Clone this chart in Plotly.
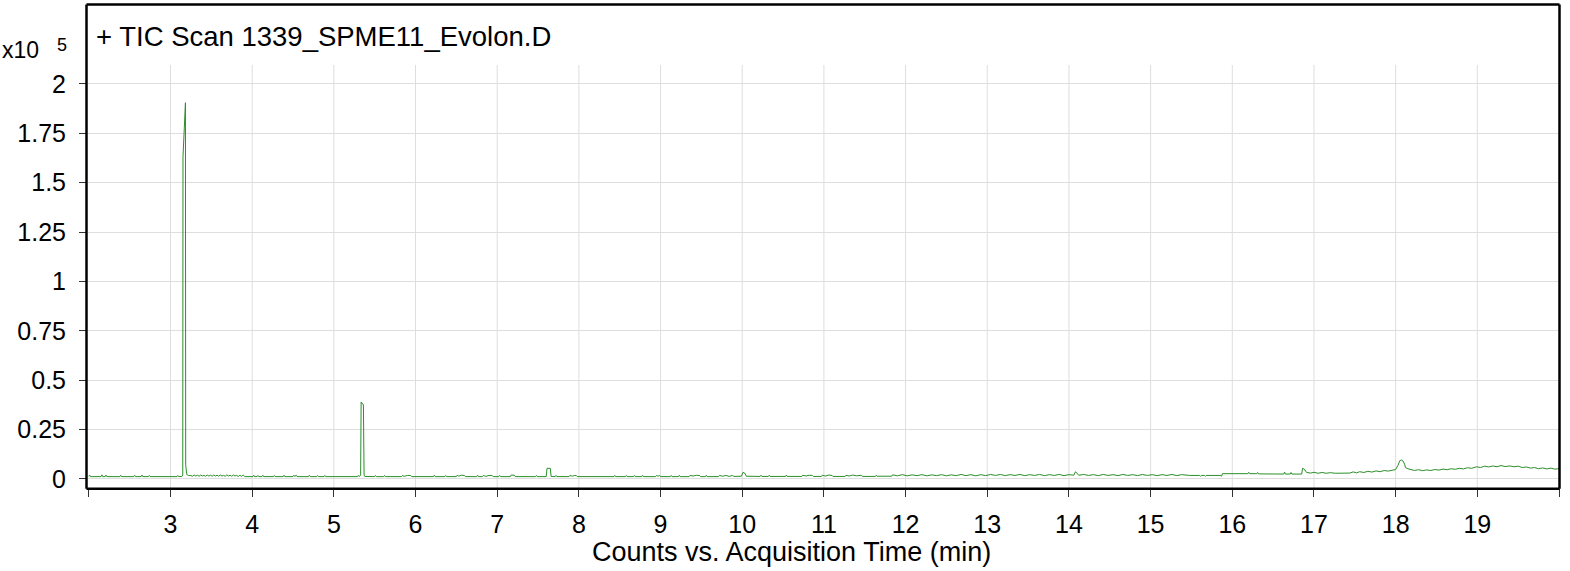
import plotly.graph_objects as go

# Acquisition time (min) and TIC counts (x10^5)
time_min = [
    2.00, 2.01, 2.02, 2.15, 2.16, 2.17, 2.20, 2.21, 2.22, 2.38, 2.39, 2.40,
    2.55, 2.56, 2.57, 2.64, 2.65, 2.66, 2.73, 2.74, 2.75, 3.08, 3.09, 3.10,
    3.14, 3.150, 3.153, 3.183, 3.186, 3.192, 3.200, 3.21, 3.22,
    3.25, 3.27, 3.29, 3.31, 3.33, 3.35, 3.37, 3.39, 3.41, 3.43, 3.45, 3.47,
    3.49, 3.51, 3.53, 3.55, 3.57, 3.59, 3.61, 3.63, 3.65, 3.67, 3.69, 3.71,
    3.73, 3.75, 3.77, 3.79, 3.81, 3.83, 3.85, 3.87, 3.89, 3.91,
    4.01, 4.02, 4.03, 4.06, 4.07, 4.08, 4.12, 4.13, 4.14, 4.26, 4.27, 4.28,
    4.38, 4.39, 4.40, 4.50, 4.51, 4.52, 4.54, 4.55, 4.69, 4.70, 4.71,
    4.79, 4.80, 4.81, 4.88, 4.89, 4.90, 5.29, 5.30, 5.31,
    5.328, 5.331, 5.334, 5.362, 5.365, 5.370, 5.378,
    5.50, 5.51, 5.52, 5.61, 5.62, 5.63, 5.83, 5.84, 5.86, 5.90, 5.94, 5.95,
    6.22, 6.23, 6.24, 6.36, 6.37, 6.38, 6.50, 6.51, 6.53, 6.56, 6.60, 6.61,
    6.75, 6.76, 6.77, 6.82, 6.83, 6.86, 6.90, 6.94, 6.95, 7.02, 7.03, 7.04,
    7.16, 7.17, 7.21, 7.22, 7.47, 7.48, 7.49, 7.60, 7.61, 7.65, 7.66,
    7.71, 7.72, 7.73, 7.88, 7.89, 7.92, 7.95, 7.97, 7.98,
    8.43, 8.44, 8.45, 8.57, 8.58, 8.59, 8.67, 8.68, 8.69, 8.77, 8.78, 8.79,
    8.94, 8.95, 8.97, 8.99, 9.00, 9.12, 9.13, 9.14, 9.22, 9.23, 9.24,
    9.35, 9.36, 9.40, 9.44, 9.48, 9.49, 9.55, 9.56, 9.57,
    9.71, 9.72, 9.76, 9.80, 9.84, 9.88, 9.90, 9.99, 10.01, 10.03, 10.05,
    10.22, 10.23, 10.24, 10.32, 10.33, 10.34, 10.53, 10.54, 10.55,
    10.73, 10.74, 10.78, 10.82, 10.86, 10.87, 10.97, 10.98, 11.02, 11.06, 11.10, 11.11,
    11.26, 11.27, 11.31, 11.35, 11.40, 11.46, 11.47, 11.63, 11.64, 11.65,
    11.83, 11.84, 11.90, 11.96, 12.02, 12.08, 12.14, 12.20, 12.26, 12.32, 12.38,
    12.44, 12.50, 12.56, 12.62, 12.68, 12.74, 12.80, 12.86, 12.92, 12.98,
    13.04, 13.10, 13.16, 13.22, 13.28, 13.34, 13.40, 13.46, 13.52, 13.58,
    13.64, 13.70, 13.76, 13.82, 13.88, 13.94, 14.00, 14.06, 14.08, 14.10, 14.12,
    14.18, 14.24, 14.30, 14.36, 14.42, 14.48, 14.54, 14.60, 14.66, 14.72,
    14.78, 14.84, 14.90, 14.96, 15.02, 15.08, 15.14, 15.20, 15.26, 15.32,
    15.38, 15.44, 15.48, 15.60, 15.61, 15.62, 15.66, 15.67, 15.68,
    15.86, 15.87, 15.88, 16.19, 16.20, 16.21, 16.30, 16.31, 16.32,
    16.63, 16.64, 16.65, 16.71, 16.72, 16.73, 16.85, 16.86, 16.88, 16.91,
    16.96, 17.00, 17.05, 17.10, 17.15, 17.20, 17.26, 17.44, 17.48, 17.52,
    17.56, 17.61, 17.66, 17.71, 17.76, 17.81, 17.86, 17.91, 17.96, 18.00,
    18.03, 18.05, 18.07, 18.09, 18.11, 18.12, 18.15, 18.19, 18.23, 18.28,
    18.33, 18.38, 18.43, 18.48, 18.53, 18.58, 18.63, 18.68, 18.73, 18.78,
    18.83, 18.88, 18.93, 18.99, 19.04, 19.09, 19.14, 19.19, 19.24, 19.29,
    19.34, 19.40, 19.45, 19.50, 19.55, 19.60, 19.65, 19.70, 19.75, 19.80,
    19.85, 19.90, 19.95, 20.00,
]

counts_e5 = [
    .013, .020, .012, .012, .021, .012, .012, .020, .012, .012, .019, .012,
    .012, .019, .012, .012, .020, .012, .012, .018, .012, .012, .018, .012,
    .013, .020, 1.630, 1.905, .070, .050, .022, .020, .018,
    .017, .014, .020, .015, .019, .014, .020, .015, .018, .014, .020, .015,
    .019, .014, .020, .015, .019, .014, .020, .015, .018, .014, .021, .015,
    .019, .014, .020, .015, .018, .013, .019, .013, .020, .012,
    .012, .019, .012, .012, .018, .012, .012, .019, .012, .012, .018, .012,
    .012, .019, .012, .012, .019, .013, .019, .012, .012, .019, .012,
    .012, .018, .012, .012, .018, .012, .012, .018, .012,
    .020, .385, .390, .375, .030, .020, .013,
    .012, .018, .012, .012, .018, .012, .012, .018, .013, .018, .018, .012,
    .012, .019, .012, .012, .018, .012, .012, .019, .014, .019, .018, .012,
    .012, .019, .012, .012, .018, .013, .018, .017, .012, .012, .018, .012,
    .012, .020, .019, .012, .012, .018, .012, .012, .054, .054, .013,
    .012, .018, .012, .012, .018, .014, .018, .017, .012,
    .012, .018, .012, .012, .018, .012, .012, .018, .012, .012, .019, .012,
    .012, .018, .014, .018, .012, .012, .018, .012, .012, .019, .012,
    .012, .018, .015, .019, .017, .012, .012, .019, .012,
    .012, .018, .014, .018, .013, .018, .013, .014, .034, .030, .014,
    .013, .019, .013, .013, .019, .013, .013, .020, .013,
    .013, .019, .015, .019, .018, .013, .013, .019, .015, .020, .018, .013,
    .013, .019, .015, .020, .016, .019, .013, .013, .019, .014,
    .014, .021, .016, .022, .016, .021, .017, .022, .016, .021, .017,
    .022, .016, .021, .017, .023, .017, .022, .016, .022, .017,
    .023, .018, .023, .017, .022, .018, .023, .017, .022, .018,
    .023, .017, .022, .018, .023, .017, .022, .019, .037, .030, .019,
    .023, .018, .022, .017, .023, .018, .022, .017, .023, .018,
    .022, .017, .023, .018, .022, .017, .022, .018, .023, .017,
    .022, .018, .018, .018, .014, .018, .018, .014, .018,
    .018, .014, .027, .027, .034, .027, .027, .033, .026,
    .025, .035, .025, .025, .033, .025, .025, .054, .050, .033,
    .030, .034, .029, .033, .029, .032, .029, .030, .036, .031,
    .037, .033, .039, .035, .041, .037, .043, .040, .046, .048,
    .070, .092, .096, .091, .075, .058, .052, .046, .043, .047,
    .042, .046, .043, .048, .045, .050, .047, .052, .049, .054,
    .051, .057, .054, .062, .058, .065, .061, .066, .062, .068,
    .063, .066, .062, .065, .058, .061, .055, .058, .052, .056,
    .051, .055, .050, .052,
]

x_ticks = [2, 3, 4, 5, 6, 7, 8, 9, 10, 11, 12, 13, 14, 15, 16, 17, 18, 19, 20]
x_tick_text = ["", "3", "4", "5", "6", "7", "8", "9", "10", "11", "12", "13",
               "14", "15", "16", "17", "18", "19", ""]
y_ticks = [0, 0.25, 0.5, 0.75, 1, 1.25, 1.5, 1.75, 2]
y_tick_text = ["0", "0.25", "0.5", "0.75", "1", "1.25", "1.5", "1.75", "2"]

title_text = "+ TIC Scan 1339_SPME11_Evolon.D"
x_title = "Counts vs. Acquisition Time (min)"

FONT = "Liberation Sans, Arial, sans-serif"

fig = go.Figure()
fig.add_trace(go.Scatter(
    x=time_min, y=counts_e5, mode="lines",
    line=dict(color="#2a8f2a", width=1),
    hoverinfo="skip", showlegend=False,
))

# vertical grid lines only for 3..19 (2 and 20 sit on the frame)
for t in x_ticks[1:-1]:
    fig.add_shape(type="line", xref="x", yref="paper", x0=t, x1=t, y0=0, y1=1,
                  line=dict(color="#dedede", width=1), layer="below")

fig.update_layout(
    width=1570, height=571,
    margin=dict(l=88, r=11, t=65, b=83, autoexpand=False),
    paper_bgcolor="white", plot_bgcolor="white",
    font=dict(family=FONT, size=25, color="black"),
    xaxis=dict(
        range=[1.99, 20.0], tickmode="array", tickvals=x_ticks, ticktext=x_tick_text,
        ticks="outside", ticklen=8, tickwidth=1, tickcolor="#333333",
        showgrid=False, zeroline=False, showline=False, automargin=False,
        ticklabelstandoff=6, tickfont=dict(size=25),
    ),
    yaxis=dict(
        range=[-0.0456, 2.096], tickmode="array", tickvals=y_ticks, ticktext=y_tick_text,
        ticks="outside", ticklen=8, tickwidth=1, tickcolor="#333333",
        showgrid=True, gridcolor="#dedede", gridwidth=1, zeroline=False, showline=False,
        automargin=False, ticklabelstandoff=8, tickfont=dict(size=25),
    ),
)

# frame around the whole chart box (including the title band)
H = 423.0
W = 1471.0
fl, fr = (86.5 - 88) / W, (1559.5 - 88) / W
fb, ft = (488 - 488.7) / H, (488 - 4.5) / H
for (x0, y0, x1, y1) in [(fl, fb, fl, ft), (fl, fb, fr, fb), (fr, fb, fr, ft), (fl, ft, fr, ft)]:
    fig.add_shape(type="line", xref="paper", yref="paper", x0=x0, y0=y0, x1=x1, y1=y1,
                  line=dict(color="black", width=2.5), layer="above")

fig.add_annotation(text=title_text, xref="paper", yref="paper",
                   x=(94 - 88) / W, y=(488 - 36) / H, xanchor="left", yanchor="middle",
                   showarrow=False, font=dict(size=27.5, family=FONT, color="black"))
fig.add_annotation(text=x_title, xref="paper", yref="paper",
                   x=(791 - 88) / W, y=(488 - 552) / H, xanchor="center", yanchor="middle",
                   showarrow=False, font=dict(size=27, family=FONT, color="black"))
fig.add_annotation(text="x10", xref="paper", yref="paper",
                   x=(41 - 88) / W, y=(488 - 50) / H, xanchor="right", yanchor="middle",
                   showarrow=False, font=dict(size=23, family=FONT, color="black"))
fig.add_annotation(text="5", xref="paper", yref="paper",
                   x=(62 - 88) / W, y=(488 - 45) / H, xanchor="center", yanchor="middle",
                   showarrow=False, font=dict(size=18, family=FONT, color="black"))

fig.write_html("out.html", config={"displayModeBar": False},
               post_script="document.body.style.margin='0';")
